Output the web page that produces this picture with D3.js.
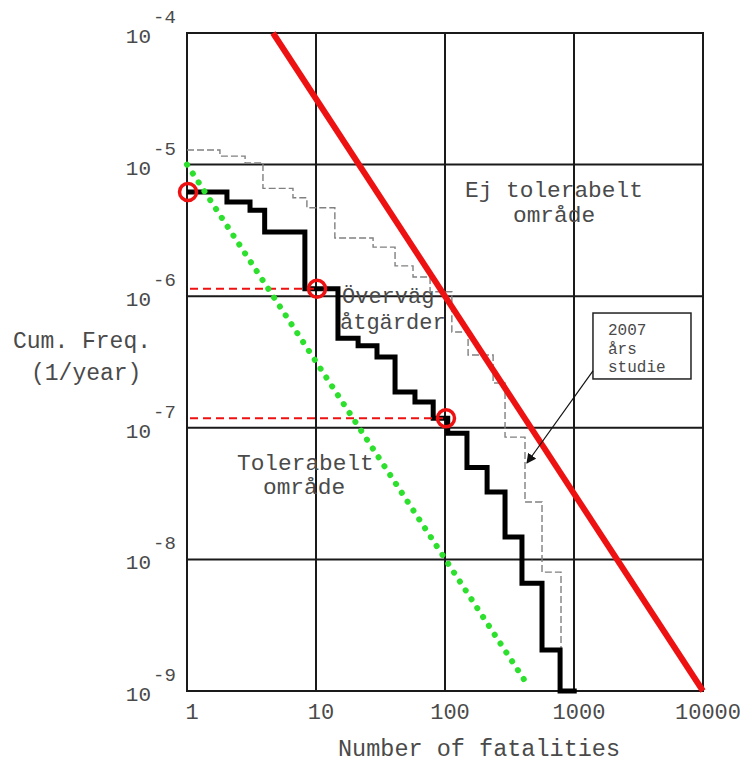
<!DOCTYPE html>
<html>
<head>
<meta charset="utf-8">
<script src="https://cdn.jsdelivr.net/npm/d3@7"></script>
<style>
  html, body { margin: 0; padding: 0; background: #fff; }
  svg { display: block; }
  text { font-family: "Liberation Mono", "Courier New", monospace; fill: #4a4a4a; }
</style>
</head>
<body>
<svg id="chart" width="740" height="762"></svg>
<script>
// Axis ticks
const xTicks = [1, 10, 100, 1000, 10000];
const yTicks = [1e-4, 1e-5, 1e-6, 1e-7, 1e-8, 1e-9];
const yExponents = ["-4", "-5", "-6", "-7", "-8", "-9"];

// F-N curve (current study), step values
const stepN = [1, 2.04, 3.08, 4.0, 8.2, 14.8, 21.2, 29.7, 41, 58.5, 81, 105, 148, 212, 292, 395, 565, 780, 1050];
const stepF = [6.2e-6, 5.2e-6, 4.5e-6, 3.08e-6, 1.14e-6, 4.8e-7, 4.2e-7, 3.45e-7, 1.87e-7, 1.57e-7, 1.18e-7, 9.1e-8, 5.0e-8, 3.25e-8, 1.48e-8, 6.6e-9, 2.05e-9, 1.0e-9, 1.0e-9];

// F-N curve from the 2007 study
const studyN = [1, 1.80, 2.82, 3.88, 6.63, 8.5, 14.0, 27.7, 41, 56.5, 76.6, 113, 151, 236, 292, 417, 565, 793];
const studyF = [1.29e-5, 1.16e-5, 1.03e-5, 6.6e-6, 5.6e-6, 4.7e-6, 2.77e-6, 2.36e-6, 1.7e-6, 1.4e-6, 1.08e-6, 5.35e-7, 3.57e-7, 2.19e-7, 8.5e-8, 2.73e-8, 8.0e-9, 1.0e-9];

// Criteria lines
const upperN = [4.64, 10000];
const upperF = [1e-4, 1e-9];
const lowerN = [1, 440];
const lowerF = [1e-5, 1.1e-9];

// Highlighted points
const markN = [1, 10, 100];
const markF = [6.2e-6, 1.14e-6, 1.18e-7];

const svg = d3.select("#chart");

const x = d3.scaleLog().domain([1, 10000]).range([187, 703]);
const y = d3.scaleLog().domain([1e-4, 1e-9]).range([33, 691]);

// grid
const grid = svg.append("g").attr("stroke", "#1a1a1a").attr("stroke-width", 2);
grid.selectAll("line.v").data(xTicks).join("line")
  .attr("x1", d => x(d)).attr("x2", d => x(d))
  .attr("y1", y(1e-4)).attr("y2", y(1e-9));
grid.selectAll("line.h").data(yTicks).join("line")
  .attr("x1", x(1) - 1).attr("x2", x(10000) + 1)
  .attr("y1", d => y(d)).attr("y2", d => y(d));

// x tick labels
svg.append("g").selectAll("text").data(xTicks).join("text")
  .attr("x", d => x(d) + 5).attr("y", 719)
  .attr("text-anchor", "middle")
  .attr("font-size", 22)
  .text(d => d3.format("d")(d));

// y tick labels: 10 with superscript exponent
const yl = svg.append("g").selectAll("g").data(yTicks).join("g");
yl.append("text")
  .attr("x", 151).attr("y", d => y(d) + 10)
  .attr("text-anchor", "end").attr("font-size", 21)
  .text("10");
yl.append("text")
  .attr("x", 153).attr("y", d => y(d) - 10)
  .attr("font-size", 19)
  .text((d, i) => yExponents[i]);

// axis titles
svg.append("text").attr("x", 13).attr("y", 348).attr("font-size", 23).text("Cum. Freq.");
svg.append("text").attr("x", 31).attr("y", 380).attr("font-size", 23).text("(1/year)");
svg.append("text").attr("x", 338).attr("y", 756).attr("font-size", 23.5).text("Number of fatalities");

// region labels
svg.append("text").attr("x", 465).attr("y", 197).attr("font-size", 22.8).text("Ej tolerabelt");
svg.append("text").attr("x", 513).attr("y", 222).attr("font-size", 22.8).text("område");
svg.append("text").attr("x", 342).attr("y", 303).attr("font-size", 22).text("Överväg");
svg.append("text").attr("x", 340).attr("y", 329).attr("font-size", 22).text("åtgärder");
svg.append("text").attr("x", 237).attr("y", 470).attr("font-size", 22.8).text("Tolerabelt");
svg.append("text").attr("x", 263).attr("y", 494).attr("font-size", 22.8).text("område");

const line = d3.line().x(d => x(d[0])).y(d => y(d[1]));
const stepLine = d3.line().curve(d3.curveStepAfter).x(d => x(d[0])).y(d => y(d[1]));

// 2007 study curve (thin dashed grey)
svg.append("path")
  .datum(d3.zip(studyN, studyF))
  .attr("d", stepLine)
  .attr("fill", "none").attr("stroke", "#808080")
  .attr("stroke-width", 1.4).attr("stroke-dasharray", "7,3");

// current study curve (thick black)
svg.append("path")
  .datum(d3.zip(stepN, stepF))
  .attr("d", stepLine)
  .attr("fill", "none").attr("stroke", "#000")
  .attr("stroke-width", 5).attr("stroke-linejoin", "miter");

// reference dashed lines
svg.append("g").selectAll("line").data(d3.zip(markN, markF).slice(1)).join("line")
  .attr("x1", x(1) + 3).attr("x2", d => x(d[0]) - 2)
  .attr("y1", d => y(d[1])).attr("y2", d => y(d[1]))
  .attr("stroke", "#ee1111").attr("stroke-width", 2).attr("stroke-dasharray", "8,5");

// lower criterion (green dotted)
svg.append("path")
  .datum(d3.zip(lowerN, lowerF))
  .attr("d", line)
  .attr("fill", "none").attr("stroke", "#2de02d")
  .attr("stroke-width", 6).attr("stroke-linecap", "round")
  .attr("stroke-dasharray", "0.1,10.5");

// upper criterion (red)
svg.append("path")
  .datum(d3.zip(upperN, upperF))
  .attr("d", line)
  .attr("fill", "none").attr("stroke", "#ee1111")
  .attr("stroke-width", 6);

// highlighted points
svg.append("g").selectAll("circle").data(d3.zip(markN, markF)).join("circle")
  .attr("cx", d => x(d[0]) + 1).attr("cy", d => y(d[1]))
  .attr("r", 8.5)
  .attr("fill", "none").attr("stroke", "#ee1111").attr("stroke-width", 3.5);

// annotation box with arrow
const boxL = x(1403), boxR = x(8070), boxT = y(7.45e-7), boxB = y(2.35e-7);
svg.append("rect")
  .attr("x", boxL).attr("y", boxT)
  .attr("width", boxR - boxL).attr("height", boxB - boxT)
  .attr("fill", "#fff").attr("stroke", "#222").attr("stroke-width", 1.5);
["2007", "års", "studie"].forEach((t, i) => {
  svg.append("text").attr("x", boxL + 15).attr("y", boxT + 22 + i * 18.5)
    .attr("font-size", 16).text(t);
});

svg.append("defs").append("marker")
  .attr("id", "arrowhead").attr("viewBox", "0 0 10 10")
  .attr("refX", 9).attr("refY", 5)
  .attr("markerWidth", 10).attr("markerHeight", 10)
  .attr("markerUnits", "userSpaceOnUse")
  .attr("orient", "auto")
  .append("path").attr("d", "M0,0 L10,5 L0,10 z").attr("fill", "#111");

svg.append("line")
  .attr("x1", boxL).attr("y1", boxB - 8)
  .attr("x2", x(432)).attr("y2", y(5.4e-8))
  .attr("stroke", "#111").attr("stroke-width", 1.2)
  .attr("marker-end", "url(#arrowhead)");
</script>
</body>
</html>
